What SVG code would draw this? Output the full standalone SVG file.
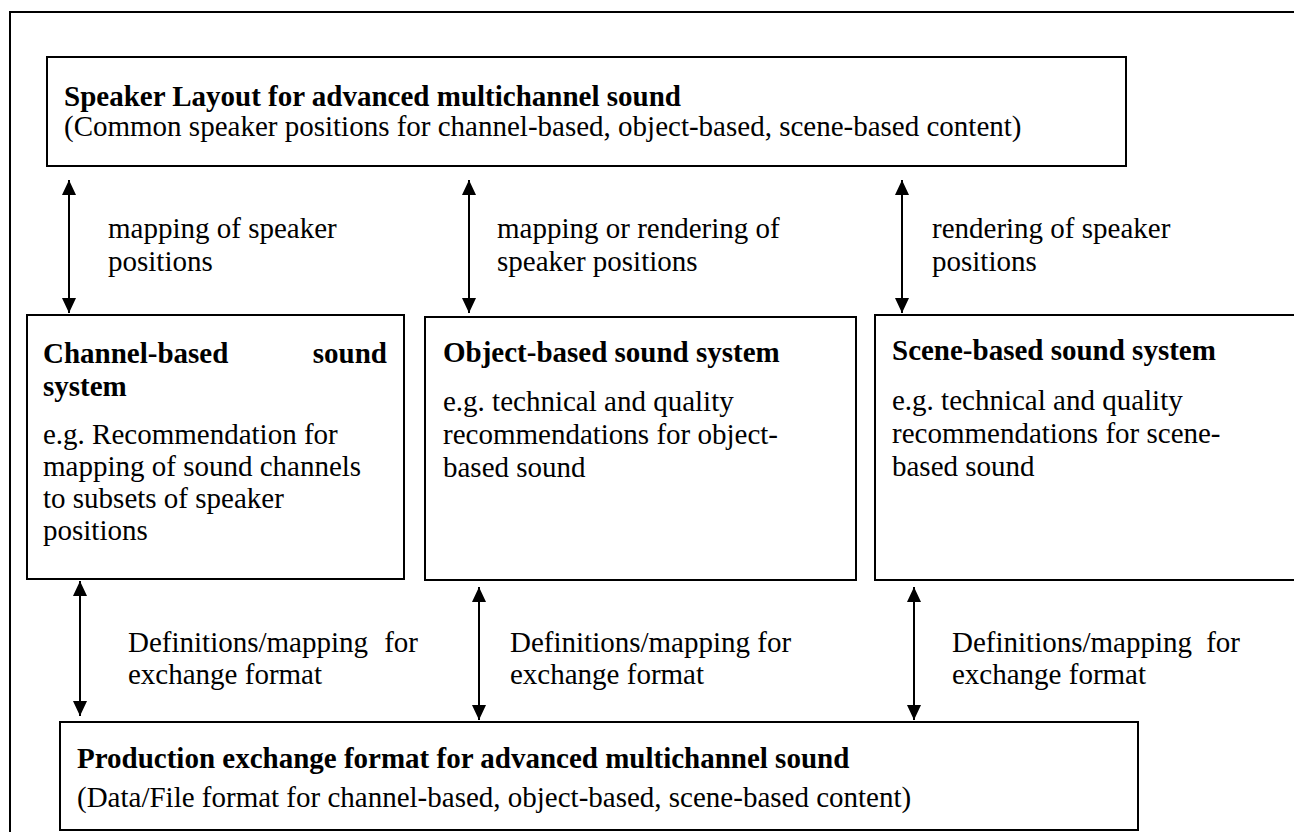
<svg xmlns="http://www.w3.org/2000/svg" width="1294" height="832" viewBox="0 0 1294 832">
<defs>
<style>
.box{fill:#fff;stroke:#000;stroke-width:2}
.t{font-family:"Liberation Serif","Times New Roman",serif;font-size:29px;fill:#000}
.b{font-weight:bold}
.ln{stroke:#000;stroke-width:2;fill:none;marker-start:url(#ah);marker-end:url(#ah)}
</style>
<marker id="ah" viewBox="0 0 15 14" refX="15" refY="7" markerWidth="15" markerHeight="14" markerUnits="userSpaceOnUse" orient="auto-start-reverse">
<path d="M0,0 L15,7 L0,14 Z" fill="#000"/>
</marker>
</defs>
<rect width="1294" height="832" fill="#fff"/>
<rect id="frame" x="10" y="12" width="1300" height="840" fill="none" stroke="#000" stroke-width="2"/>

<g id="connectors">
<line class="ln" x1="69" y1="180" x2="69" y2="313"/>
<line class="ln" x1="469" y1="180" x2="469" y2="313"/>
<line class="ln" x1="902" y1="180" x2="902" y2="313"/>
<line class="ln" x1="80" y1="581" x2="80" y2="716"/>
<line class="ln" x1="479" y1="587" x2="479" y2="720"/>
<line class="ln" x1="914" y1="587" x2="914" y2="720"/>
<text class="t" x="108" y="238">mapping of speaker</text>
<text class="t" x="108" y="271">positions</text>
<text class="t" x="497" y="238">mapping or rendering of</text>
<text class="t" x="497" y="271">speaker positions</text>
<text class="t" x="932" y="238">rendering of speaker</text>
<text class="t" x="932" y="271">positions</text>
<text class="t" x="128" y="652">Definitions/mapping</text>
<text class="t" x="418" y="652" text-anchor="end">for</text>
<text class="t" x="128" y="684">exchange format</text>
<text class="t" x="510" y="652">Definitions/mapping for</text>
<text class="t" x="510" y="684">exchange format</text>
<text class="t" x="952" y="652">Definitions/mapping</text>
<text class="t" x="1240" y="652" text-anchor="end">for</text>
<text class="t" x="952" y="684">exchange format</text>
</g>

<g id="speaker-layout">
<rect class="box" x="47" y="57" width="1079" height="109"/>
<text class="t b" x="64" y="106">Speaker Layout for advanced multichannel sound</text>
<text class="t" x="64" y="136">(Common speaker positions for channel-based, object-based, scene-based content)</text>
</g>

<g id="channel-based">
<rect class="box" x="27" y="315" width="377" height="264"/>
<text class="t b" x="43" y="363">Channel-based</text>
<text class="t b" x="387" y="363" text-anchor="end">sound</text>
<text class="t b" x="43" y="396">system</text>
<text class="t" x="43" y="444">e.g. Recommendation for</text>
<text class="t" x="43" y="476">mapping of sound channels</text>
<text class="t" x="43" y="508">to subsets of speaker</text>
<text class="t" x="43" y="540">positions</text>
</g>

<g id="object-based">
<rect class="box" x="425" y="317" width="431" height="263"/>
<text class="t b" x="443" y="362">Object-based sound system</text>
<text class="t" x="443" y="411">e.g. technical and quality</text>
<text class="t" x="443" y="444">recommendations for object-</text>
<text class="t" x="443" y="477">based sound</text>
</g>

<g id="scene-based">
<rect class="box" x="875" y="315" width="440" height="265"/>
<text class="t b" x="892" y="360">Scene-based sound system</text>
<text class="t" x="892" y="410">e.g. technical and quality</text>
<text class="t" x="892" y="443">recommendations for scene-</text>
<text class="t" x="892" y="476">based sound</text>
</g>

<g id="production-exchange">
<rect class="box" x="60" y="722" width="1078" height="108"/>
<text class="t b" x="77" y="768">Production exchange format for advanced multichannel sound</text>
<text class="t" x="77" y="807">(Data/File format for channel-based, object-based, scene-based content)</text>
</g>
</svg>
